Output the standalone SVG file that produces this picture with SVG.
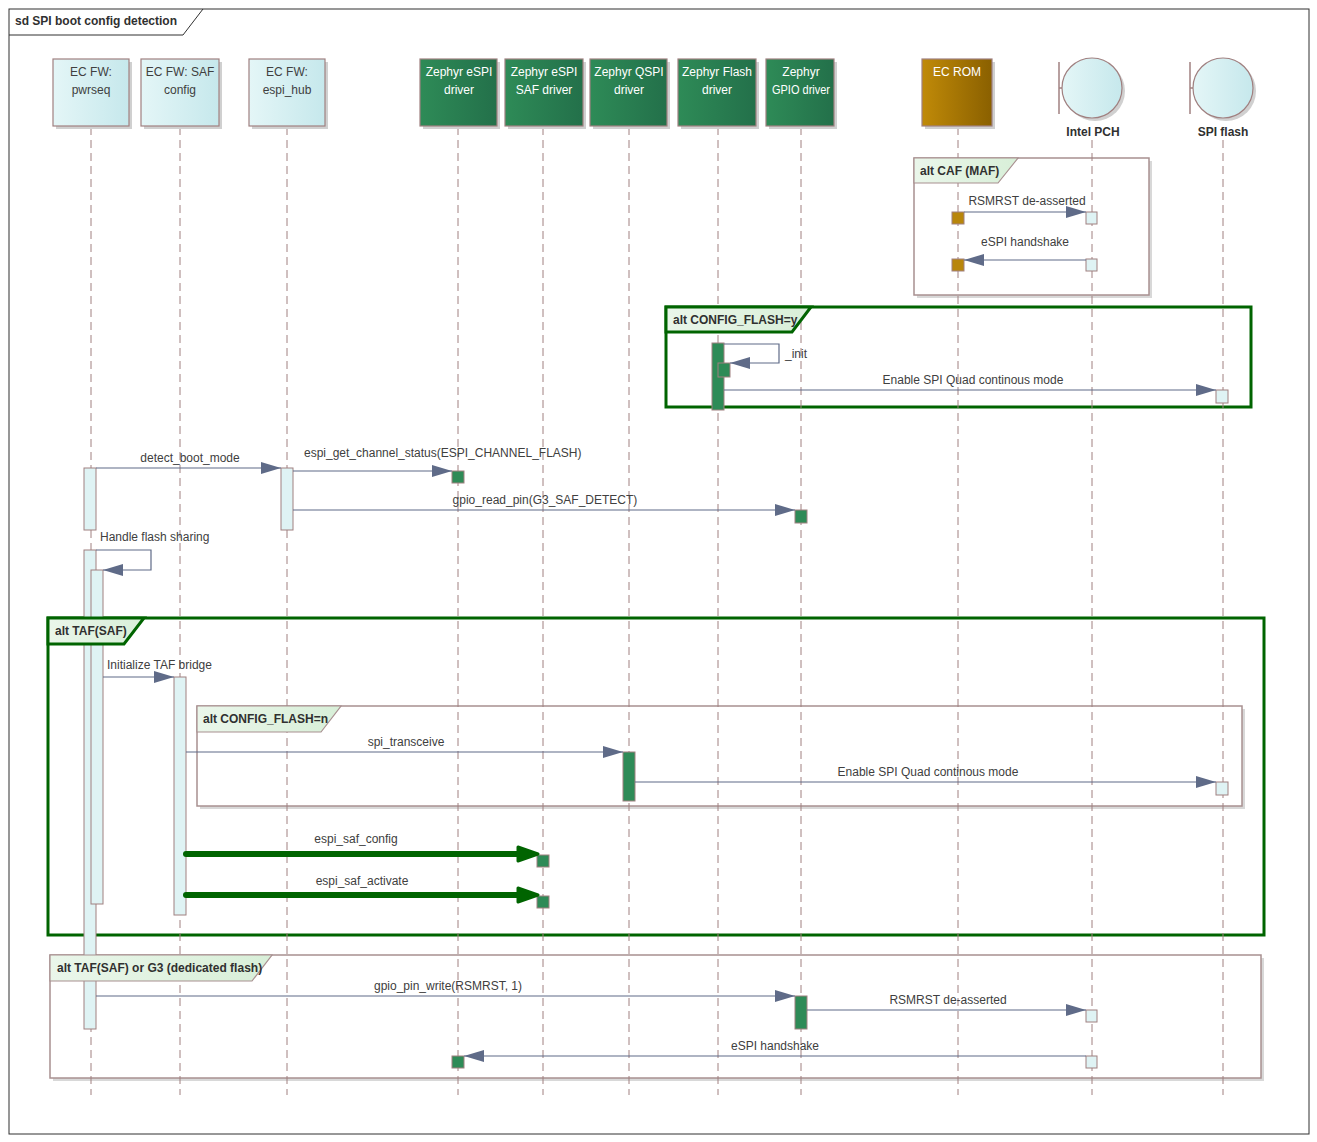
<svg xmlns="http://www.w3.org/2000/svg" width="1317" height="1142" viewBox="0 0 1317 1142">
<defs>
<linearGradient id="gl" x1="0" x2="1"><stop offset="0" stop-color="#e4f6f7"/><stop offset="1" stop-color="#c6e8ec"/></linearGradient>
<linearGradient id="gg" x1="0" x2="1"><stop offset="0" stop-color="#2e8b57"/><stop offset="1" stop-color="#23704a"/></linearGradient>
<linearGradient id="gb" x1="0" x2="1"><stop offset="0" stop-color="#c08a08"/><stop offset="1" stop-color="#8a6000"/></linearGradient>
<linearGradient id="gt" x1="0" x2="1"><stop offset="0" stop-color="#eaf6ea"/><stop offset="1" stop-color="#d8efd8"/></linearGradient>
<marker id="ah" viewBox="0 0 20 12" refX="20" refY="6" markerWidth="20" markerHeight="12" markerUnits="userSpaceOnUse" orient="auto"><path d="M0,0 L20,6 L0,12 Z" fill="#5f6b88"/></marker>
</defs>
<style>
text{font-family:"Liberation Sans",Arial,sans-serif;font-size:12px;fill:#404040}
.b{font-weight:bold;fill:#303030}
.w{fill:#fff;text-anchor:middle}
.c{text-anchor:middle}
.ll{stroke:#a08080;stroke-width:1;stroke-dasharray:8,5}
.msg{stroke:#5f6b88;stroke-width:1.2;fill:none}
.thick{stroke:#006400;stroke-width:6;stroke-linecap:round;fill:none}
.lbox{fill:url(#gl);stroke:#a08080;stroke-width:1.2}
.gbox{fill:url(#gg);stroke:#a08080;stroke-width:1.2}
.bbox{fill:url(#gb);stroke:#a08080;stroke-width:1.2}
.sh{fill:#d0d0d0}
.frg{fill:none;stroke:#006400;stroke-width:3}
.act{fill:#dff3f4;stroke:#a08080;stroke-width:1}
.actg{fill:#2e8b57;stroke:#a08080;stroke-width:1}
.actb{fill:#b8860b;stroke:#a08080;stroke-width:1}
</style>
<rect x="9" y="9" width="1300" height="1125" fill="#fff" stroke="#303030" stroke-width="1"/>
<path d="M9,35 H183 L203,9" fill="none" stroke="#303030"/>
<text x="15" y="25" class="b">sd SPI boot config detection</text>

<g id="frames">
<rect x="917" y="161" width="235" height="137" fill="#d8d8d8"/>
<rect x="914" y="158" width="235" height="137" fill="#fff" stroke="#a89090" stroke-width="1.5"/>
<rect x="200" y="709" width="1045" height="100" fill="#d8d8d8"/>
<rect x="197" y="706" width="1045" height="100" fill="#fff" stroke="#a89090" stroke-width="1.5"/>
<rect x="53" y="958" width="1211" height="123" fill="#d8d8d8"/>
<rect x="50" y="955" width="1211" height="123" fill="#fff" stroke="#a89090" stroke-width="1.5"/>
<rect class="frg" x="666" y="307" width="585" height="100"/>
<rect class="frg" x="48" y="618" width="1216" height="317"/>
</g>

<g id="lifelines">
<line class="ll" x1="91" y1="127" x2="91" y2="1095"/>
<line class="ll" x1="180" y1="127" x2="180" y2="1095"/>
<line class="ll" x1="287" y1="127" x2="287" y2="1095"/>
<line class="ll" x1="458" y1="127" x2="458" y2="1095"/>
<line class="ll" x1="543" y1="127" x2="543" y2="1095"/>
<line class="ll" x1="629" y1="127" x2="629" y2="1095"/>
<line class="ll" x1="718" y1="127" x2="718" y2="1095"/>
<line class="ll" x1="801" y1="127" x2="801" y2="1095"/>
<line class="ll" x1="958" y1="127" x2="958" y2="1095"/>
<line class="ll" x1="1092" y1="140" x2="1092" y2="1095"/>
<line class="ll" x1="1223" y1="140" x2="1223" y2="1095"/>
</g>

<g id="pwrseq"><rect class="sh" x="56" y="62" width="76" height="67"/><rect class="lbox" x="53" y="59" width="76" height="67"/><text class="c" x="91" y="76">EC FW:</text><text class="c" x="91" y="94">pwrseq</text></g>
<g id="safconfig"><rect class="sh" x="144" y="62" width="78" height="67"/><rect class="lbox" x="141" y="59" width="78" height="67"/><text class="c" x="180" y="76">EC FW: SAF</text><text class="c" x="180" y="94">config</text></g>
<g id="espihub"><rect class="sh" x="252" y="62" width="76" height="67"/><rect class="lbox" x="249" y="59" width="76" height="67"/><text class="c" x="287" y="76">EC FW:</text><text class="c" x="287" y="94">espi_hub</text></g>
<g id="espi"><rect class="sh" x="423" y="62" width="77" height="67"/><rect class="gbox" x="420" y="59" width="77" height="67"/><text class="w" x="459" y="76">Zephyr eSPI</text><text class="w" x="459" y="94">driver</text></g>
<g id="espisaf"><rect class="sh" x="508" y="62" width="78" height="67"/><rect class="gbox" x="505" y="59" width="78" height="67"/><text class="w" x="544" y="76">Zephyr eSPI</text><text class="w" x="544" y="94">SAF driver</text></g>
<g id="qspi"><rect class="sh" x="593" y="62" width="77" height="67"/><rect class="gbox" x="590" y="59" width="77" height="67"/><text class="w" x="629" y="76">Zephyr QSPI</text><text class="w" x="629" y="94">driver</text></g>
<g id="flash"><rect class="sh" x="681" y="62" width="78" height="67"/><rect class="gbox" x="678" y="59" width="78" height="67"/><text class="w" x="717" y="76">Zephyr Flash</text><text class="w" x="717" y="94">driver</text></g>
<g id="gpio"><rect class="sh" x="769" y="62" width="68" height="67"/><rect class="gbox" x="766" y="59" width="68" height="67"/><text class="w" x="801" y="76">Zephyr</text><text class="w" x="801" y="94" textLength="58" lengthAdjust="spacingAndGlyphs">GPIO driver</text></g>
<g id="ecrom"><rect class="sh" x="925" y="62" width="70" height="67"/><rect class="bbox" x="922" y="59" width="70" height="67"/><text class="w" x="957" y="76">EC ROM</text></g>
<g id="pch"><circle cx="1095" cy="91" r="30" fill="#d0d0d0"/><line x1="1059" y1="62" x2="1059" y2="114" stroke="#a08080" stroke-width="1.5"/><line x1="1059" y1="88" x2="1062" y2="88" stroke="#a08080" stroke-width="1.5"/><circle cx="1092" cy="88" r="30" fill="url(#gl)" stroke="#a08080" stroke-width="1.2"/><text class="b c" x="1093" y="136">Intel PCH</text></g>
<g id="spiflash"><circle cx="1226" cy="91" r="30" fill="#d0d0d0"/><line x1="1190" y1="62" x2="1190" y2="114" stroke="#a08080" stroke-width="1.5"/><line x1="1190" y1="88" x2="1193" y2="88" stroke="#a08080" stroke-width="1.5"/><circle cx="1223" cy="88" r="30" fill="url(#gl)" stroke="#a08080" stroke-width="1.2"/><text class="b c" x="1223" y="136">SPI flash</text></g>

<g id="activations">
<rect class="actb" x="952" y="212" width="12" height="12"/>
<rect class="act" x="1086" y="212" width="11" height="12"/>
<rect class="actb" x="952" y="259" width="12" height="12"/>
<rect class="act" x="1086" y="259" width="11" height="12"/>
<rect class="actg" x="712" y="343" width="12" height="67"/>
<rect class="actg" x="718" y="363" width="12" height="14"/>
<rect class="act" x="1216" y="390" width="12" height="13"/>
<rect class="act" x="84" y="468" width="12" height="62"/>
<rect class="act" x="281" y="468" width="12" height="62"/>
<rect class="actg" x="452" y="471" width="12" height="12"/>
<rect class="actg" x="795" y="510" width="12" height="13"/>
<rect class="act" x="84" y="550" width="12" height="479"/>
<rect class="act" x="91" y="570" width="12" height="334"/>
<rect class="act" x="174" y="677" width="12" height="238"/>
<rect class="actg" x="623" y="752" width="12" height="49"/>
<rect class="act" x="1216" y="782" width="12" height="13"/>
<rect class="actg" x="537" y="855" width="12" height="12"/>
<rect class="actg" x="537" y="896" width="12" height="12"/>
<rect class="actg" x="795" y="996" width="12" height="33"/>
<rect class="act" x="1086" y="1010" width="11" height="12"/>
<rect class="actg" x="452" y="1056" width="12" height="12"/>
<rect class="act" x="1086" y="1056" width="11" height="12"/>
</g>

<g id="connectors">
<line class="msg" x1="964" y1="212" x2="1086" y2="212" marker-end="url(#ah)"/>
<text class="c" x="1027" y="205">RSMRST de-asserted</text>
<line class="msg" x1="1086" y1="260" x2="964" y2="260" marker-end="url(#ah)"/>
<text class="c" x="1025" y="246">eSPI handshake</text>
<path class="msg" d="M724,344 H779 V363 H730" marker-end="url(#ah)"/>
<text x="785" y="358">_init</text>
<line class="msg" x1="724" y1="390" x2="1216" y2="390" marker-end="url(#ah)"/>
<text class="c" x="973" y="384">Enable SPI Quad continous mode</text>
<line class="msg" x1="96" y1="468" x2="281" y2="468" marker-end="url(#ah)"/>
<text class="c" x="190" y="462">detect_boot_mode</text>
<line class="msg" x1="293" y1="471" x2="452" y2="471" marker-end="url(#ah)"/>
<text x="304" y="457">espi_get_channel_status(ESPI_CHANNEL_FLASH)</text>
<line class="msg" x1="293" y1="510" x2="795" y2="510" marker-end="url(#ah)"/>
<text class="c" x="545" y="504">gpio_read_pin(G3_SAF_DETECT)</text>
<path class="msg" d="M96,550 H151 V570 H103" marker-end="url(#ah)"/>
<text x="100" y="541">Handle flash sharing</text>
<line class="msg" x1="103" y1="677" x2="174" y2="677" marker-end="url(#ah)"/>
<text x="107" y="669">Initialize TAF bridge</text>
<line class="msg" x1="186" y1="752" x2="623" y2="752" marker-end="url(#ah)"/>
<text class="c" x="406" y="746">spi_transceive</text>
<line class="msg" x1="635" y1="782" x2="1216" y2="782" marker-end="url(#ah)"/>
<text class="c" x="928" y="776">Enable SPI Quad continous mode</text>
<line class="thick" x1="186" y1="854" x2="520" y2="854"/>
<path d="M518,847 L538,854 L518,861 Z" fill="#006400" stroke="#006400" stroke-width="3" stroke-linejoin="round"/>
<text class="c" x="356" y="843">espi_saf_config</text>
<line class="thick" x1="186" y1="895" x2="520" y2="895"/>
<path d="M518,888 L538,895 L518,902 Z" fill="#006400" stroke="#006400" stroke-width="3" stroke-linejoin="round"/>
<text class="c" x="362" y="885">espi_saf_activate</text>
<line class="msg" x1="96" y1="996" x2="795" y2="996" marker-end="url(#ah)"/>
<text class="c" x="448" y="990">gpio_pin_write(RSMRST, 1)</text>
<line class="msg" x1="807" y1="1010" x2="1086" y2="1010" marker-end="url(#ah)"/>
<text class="c" x="948" y="1004">RSMRST de-asserted</text>
<line class="msg" x1="1086" y1="1056" x2="464" y2="1056" marker-end="url(#ah)"/>
<text class="c" x="775" y="1050">eSPI handshake</text>
</g>

<g id="frame-tabs">
<path d="M914,158 H1018 L998,183 H914 Z" fill="url(#gt)" stroke="#a89090" stroke-width="1.2"/>
<text class="b" x="920" y="175">alt CAF (MAF)</text>
<path d="M666,307 H811 L792,332 H666 Z" fill="url(#gt)" stroke="#006400" stroke-width="3"/>
<text class="b" x="673" y="324">alt CONFIG_FLASH=y</text>
<path d="M48,618 H144 L124,644 H48 Z" fill="url(#gt)" stroke="#006400" stroke-width="3"/>
<text class="b" x="55" y="635">alt TAF(SAF)</text>
<path d="M197,706 H341 L321,732 H197 Z" fill="url(#gt)" stroke="#a89090" stroke-width="1.2"/>
<text class="b" x="203" y="723">alt CONFIG_FLASH=n</text>
<path d="M50,955 H272 L252,981 H50 Z" fill="url(#gt)" stroke="#a89090" stroke-width="1.2"/>
<text class="b" x="57" y="972">alt TAF(SAF) or G3 (dedicated flash)</text>
</g>
</svg>
